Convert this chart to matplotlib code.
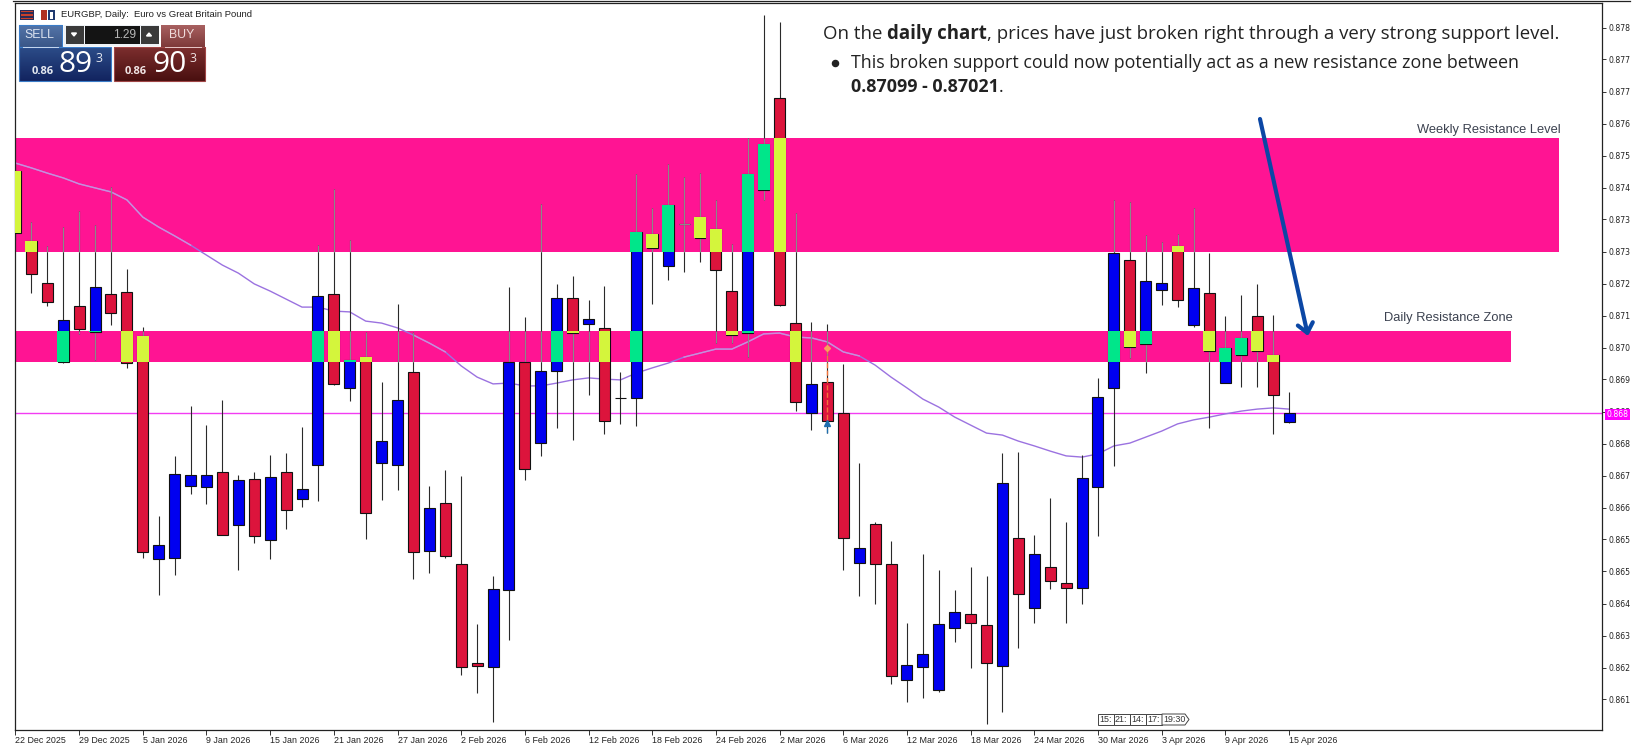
import numpy as np
import matplotlib
matplotlib.use('Agg')
import matplotlib.pyplot as plt
from matplotlib.patches import Rectangle, Polygon

# daily candles
opens = [.87498, .87323, .87218, .87020, .87161, .87096, .87191, .87196, .87086, .86529,
         .86531, .86711, .86708, .86746, .86614, .86729, .86576, .86746, .86678, .86763,
         .87191, .86956, .87034, .86768, .86763, .86996, .86549, .86667, .86515, .86269,
         .86259, .86451, .87021, .86818, .86999, .87181, .87116, .87105, .86932, .86932,
         .87341, .87260, .87365, .87382, .87353, .87199, .87092, .87451, .87681, .87117,
         .86894, .86970, .86892, .86519, .86617, .86515, .86226, .86258, .86201, .86357,
         .86391, .86363, .86261, .86581, .86405, .86507, .86467, .86456, .86709, .86956,
         .87276, .87066, .87201, .87311, .87113, .87194, .86969, .87038, .87135, .87038,
         .86870]
highs = [.87513, .87371, .87311, .87358, .87398, .87363, .87458, .87253, .87108, .86636,
         .86786, .86911, .86863, .86926, .86739, .86746, .86789, .86794, .86859, .87313,
         .87453, .87326, .87096, .86971, .87166, .87096, .86711, .86752, .86737, .86366,
         .86486, .87209, .87134, .87416, .87216, .87236, .87176, .87212, .86995, .87490,
         .87405, .87516, .87484, .87494, .87427, .87315, .87580, .87888, .87870, .87392,
         .87121, .87116, .87017, .86767, .86620, .86572, .86369, .86542, .86501, .86451,
         .86509, .86486, .86792, .86796, .86587, .86680, .86622, .86789, .86980, .87426,
         .87421, .87339, .87321, .87341, .87405, .87294, .87136, .87187, .87217, .87138,
         .86946]
lows = [.87326, .87193, .87161, .87018, .87091, .87026, .87113, .87006, .86531, .86439,
        .86489, .86691, .86666, .86588, .86501, .86569, .86529, .86603, .86658, .86673,
        .86963, .86924, .86578, .86676, .86701, .86479, .86494, .86531, .86238, .86193,
        .86121, .86326, .86726, .86786, .86856, .86826, .86938, .86842, .86866, .86860,
        .87166, .87227, .87247, .87271, .87069, .87067, .87034, .87426, .87160, .86899,
        .86852, .86844, .86501, .86436, .86417, .86216, .86171, .86181, .86196, .86320,
        .86257, .86116, .86146, .86307, .86367, .86454, .86367, .86415, .86586, .86761,
        .87032, .86994, .87163, .87159, .87109, .86857, .86967, .86959, .86959, .86842,
        .86867]
closes = [.87343, .87241, .87171, .87126, .87103, .87208, .87143, .87018, .86546, .86562,
          .86741, .86739, .86739, .86589, .86726, .86586, .86734, .86651, .86704, .87186,
          .86965, .87026, .86644, .86823, .86926, .86546, .86655, .86536, .86259, .86261,
          .86452, .87021, .86753, .86998, .87181, .87094, .87127, .86874, .86932, .87346,
          .87305, .87413, .87365, .87330, .87251, .87087, .87491, .87566, .87163, .86920,
          .86965, .86874, .86581, .86555, .86517, .86236, .86263, .86291, .86366, .86396,
          .86367, .86269, .86719, .86442, .86540, .86474, .86456, .86731, .86932, .87294,
          .87059, .87224, .87219, .87176, .87206, .87049, .87055, .87080, .87049, .86939,
          .86892]

# moving average line
ma_line = [.87518, .87506, .87493, .87481, .87466, .87456, .87446, .87426, .87383, .87358,
           .87336, .87313, .87288, .87263, .87243, .87216, .87198, .87178, .87158, .87158,
           .87148, .87146, .87123, .87118, .87106, .87088, .87068, .87046, .87011, .86983,
           .86966, .86968, .86961, .86961, .86968, .86976, .86981, .86978, .86976, .86993,
           .87006, .87018, .87033, .87043, .87053, .87053, .87071, .87091, .87093, .87083,
           .87081, .87071, .87046, .87036, .87013, .86983, .86956, .86928, .86908, .86883,
           .86863, .86843, .86838, .86823, .86811, .86798, .86786, .86783, .86791, .86811,
           .86818, .86833, .86848, .86866, .86876, .86883, .86891, .86898, .86903, .86906,
           .86903]

# zones: low, high, right end in bars
weekly_zone = [.87295, .87580, 96.97]
daily_zone = [.87021, .87099, 93.94]
current_price = .86893

# trade marks on the 4 Mar candle
trade_bar = 51
trade_entry = .87056
trade_exit = .86869

y_ticks = [.87857, .87777, .87697, .87617, .87537, .87457, .87377, .87297, .87217, .87137, .87057,
           .86977, .86897, .86817, .86737, .86657, .86577, .86497, .86417, .86337, .86257, .86177]
y_labels = ['0.878', '0.877', '0.877', '0.876', '0.875', '0.874', '0.873', '0.873', '0.872', '0.871', '0.870',
            '0.869', '0.868', '0.868', '0.867', '0.866', '0.865', '0.865', '0.864', '0.863', '0.862', '0.861']
x_ticks = [0, 4, 8, 12, 16, 20, 24, 28, 32, 36, 40, 44, 48, 52, 56, 60, 64, 68, 72, 76, 80]
x_labels = ['22 Dec 2025', '29 Dec 2025', '5 Jan 2026', '9 Jan 2026', '15 Jan 2026', '21 Jan 2026',
            '27 Jan 2026', '2 Feb 2026', '6 Feb 2026', '12 Feb 2026', '18 Feb 2026', '24 Feb 2026',
            '2 Mar 2026', '6 Mar 2026', '12 Mar 2026', '18 Mar 2026', '24 Mar 2026', '30 Mar 2026',
            '3 Apr 2026', '9 Apr 2026', '15 Apr 2026']

W, H = 1643, 746
PINK = '#FF1493'
UP = '#0000F0'
DOWN = '#DC143C'
UP_ZONE = '#00E68A'
DOWN_ZONE = '#D4F53C'

fig = plt.figure(figsize=(W / 100, H / 100), dpi=100, facecolor='white')
ax = fig.add_axes([15.3 / W, (H - 729.5) / H, (1602 - 15.3) / W, (729.5 - 2.7) / H])

x = np.arange(len(opens))
o = np.array(opens)
c = np.array(closes)
hi = np.array(highs)
lo = np.array(lows)
body_top = np.maximum(o, c)
body_bot = np.minimum(o, c)
bar_w = 0.69

zones = [weekly_zone, daily_zone]
for z in zones:
    ax.fill_between([-1, z[2]], z[0], z[1], color=PINK, lw=0, zorder=1)

ax.axhline(current_price, color='#F23CF2', lw=1, zorder=1.5)

ma = np.array(ma_line)
ax.plot(x, ma, color='#9B72E0', lw=1, zorder=1.6)
for z in zones:
    ax.plot(x, np.where((ma > z[0]) & (ma < z[1]), ma, np.nan), color='#D08CD8', lw=1, zorder=1.7)

ax.vlines(x, lo, hi, color='#2A2A2A', lw=0.8, zorder=2)
for z in zones:
    w_lo = np.maximum(lo, z[0])
    w_hi = np.minimum(hi, z[1])
    keep = (w_hi > w_lo) & (x < z[2])
    ax.vlines(x[keep], w_lo[keep], w_hi[keep], color='#8A8A8A', lw=0.8, zorder=2.1)

colors = [UP if c[i] >= o[i] else DOWN for i in x]
ax.bar(x, body_top - body_bot, bottom=body_bot, width=bar_w, color=colors,
       edgecolor='#111111', lw=0.8, zorder=3)

# bodies change colour where they sit on a zone
for z in zones:
    b_lo = np.maximum(body_bot, z[0])
    b_hi = np.minimum(body_top, z[1])
    for i in x:
        if b_hi[i] > b_lo[i]:
            col = UP_ZONE if c[i] >= o[i] else DOWN_ZONE
            ax.bar(i, b_hi[i] - b_lo[i], bottom=b_lo[i], width=bar_w + 0.06, color=col, lw=0, zorder=3.2)
        elif o[i] == c[i] and z[0] < o[i] < z[1]:
            ax.hlines(o[i], i - bar_w / 2, i + bar_w / 2, color='#8A8A8A', lw=0.8, zorder=3.2)

# trade marks
ax.plot([trade_bar, trade_bar], [trade_entry, trade_exit], color='#F4743B', lw=1, ls='--', zorder=3.4)
ax.plot([trade_bar, trade_bar], [lo[trade_bar], trade_exit], color='#1E6FB0', lw=1, ls='--', zorder=3.4)
ax.plot(trade_bar, trade_entry, marker='D', ms=3, color='#F9A05C', zorder=3.5)
ax.plot(trade_bar, trade_exit, marker='^', ms=5, color='#1E6FB0', zorder=3.5)

ax.set_xlim(-0.01, 99.66)
ax.set_ylim(.86102, .87919)
ax.yaxis.tick_right()
ax.set_yticks(y_ticks)
ax.set_yticklabels(y_labels, fontsize=5.6, family='DejaVu Sans', color='#222222')
ax.set_xticks(x_ticks)
ax.set_xticklabels(x_labels, fontsize=6.4, family='Liberation Sans', color='#222222', ha='left')
ax.tick_params(axis='y', length=3, width=0.7, pad=1.5, color='#333333')
ax.tick_params(axis='x', length=3.5, width=0.7, pad=1, color='#333333')
for s in ax.spines.values():
    s.set_linewidth(0.9)
    s.set_color('#222222')

# overlay in picture pixels for the text and the trade panel
ov = fig.add_axes([0, 0, 1, 1], zorder=10)
ov.patch.set_alpha(0)
ov.axis('off')


def grad(x0, y0, x1, y1, top, bottom):
    c0 = np.array(matplotlib.colors.to_rgb(top))
    c1 = np.array(matplotlib.colors.to_rgb(bottom))
    t = np.linspace(0, 1, 24)[:, None, None]
    img = c0[None, None, :] * (1 - t) + c1[None, None, :] * t
    ov.imshow(img, extent=[x0, x1, y1, y0], aspect='auto', zorder=2, interpolation='bilinear')


ov.plot([13, 1630], [0.8, 0.8], color='#222222', lw=0.9)

# icons and title
ov.add_patch(Rectangle((20, 9.5), 14, 10, color='#2B2B55', lw=0))
for yy in [10.5, 14, 17.5]:
    ov.add_patch(Rectangle((21, yy), 12, 1.6, color='#C8402A', lw=0))
ov.add_patch(Rectangle((41, 9.5), 6, 10, color='#B03020', lw=0))
ov.add_patch(Rectangle((48, 9.5), 7, 10, color='#1F3A70', lw=0))
ov.add_patch(Rectangle((50, 12), 2.5, 7, color='white', lw=0))
ov.text(61, 14.5, 'EURGBP, Daily:  Euro vs Great Britain Pound', fontsize=6.8, family='Liberation Sans',
        color='#222222', va='center')

# sell / buy panel
grad(19, 25, 62.3, 47, '#5474A8', '#3A5788')
grad(161, 25, 205, 47, '#A86060', '#7E3A3A')
grad(19, 47, 111, 81, '#2C4C88', '#122460')
grad(113.5, 47, 205, 81, '#7C2E2E', '#4A1010')
ov.add_patch(Rectangle((19, 47), 92, 34, fill=False, ec='#3A7CC8', lw=0.8, zorder=3))
ov.add_patch(Rectangle((19, 25), 43.3, 22, fill=False, ec='#3A7CC8', lw=0.8, zorder=3))
ov.add_patch(Rectangle((113.5, 47), 91.5, 34, fill=False, ec='#A04545', lw=0.8, zorder=3))
ov.add_patch(Rectangle((64, 25), 95, 21, fc='#EEF2F6', ec='none', zorder=2))
ov.add_patch(Rectangle((65.5, 26), 18, 18, fc='#3A3A3A', ec='none', zorder=3))
ov.add_patch(Rectangle((85, 26), 54.5, 18, fc='#141414', ec='none', zorder=3))
ov.add_patch(Rectangle((141, 26), 17.5, 18, fc='#3A3A3A', ec='none', zorder=3))
ov.add_patch(Polygon([[71.5, 33], [76.5, 33], [74, 36]], color='white', zorder=4))
ov.add_patch(Polygon([[146.5, 36], [151.5, 36], [149, 33]], color='white', zorder=4))
ov.plot([22.5, 58], [47, 47], color='#C8D8F0', lw=0.7, zorder=4)
ov.plot([165, 201], [47, 47], color='#E8C8C8', lw=0.7, zorder=4)
ov.text(136, 34.5, '1.29', fontsize=8.6, family='Liberation Sans', color='#B8B8B8', ha='right', va='center', zorder=5)
ov.text(39.5, 35.5, 'SELL', fontsize=8.8, family='Liberation Sans', color='#DDE4F0', ha='center', va='center', zorder=5)
ov.text(182, 35.5, 'BUY', fontsize=8.8, family='Liberation Sans', color='#F0DDDD', ha='center', va='center', zorder=5)
ov.text(32, 71, '0.86', fontsize=8, weight='bold', family='Open Sans', color='#E4E8F0', va='center', zorder=5)
ov.text(59, 64.5, '89', fontsize=21.5, family='Open Sans', color='white', va='center', zorder=5)
ov.text(96, 59, '3', fontsize=9, family='Open Sans', color='#E4E8F0', va='center', zorder=5)
ov.text(125, 71, '0.86', fontsize=8, weight='bold', family='Open Sans', color='#F0E4E4', va='center', zorder=5)
ov.text(153, 64.5, '90', fontsize=21.5, family='Open Sans', color='white', va='center', zorder=5)
ov.text(190, 59, '3', fontsize=9, family='Open Sans', color='#F0E4E4', va='center', zorder=5)

# zone labels
ov.text(1561, 130.5, 'Weekly Resistance Level', fontsize=9.3, family='Liberation Sans', color='#3C4250',
        ha='right', va='center')
ov.text(1513, 318.5, 'Daily Resistance Zone', fontsize=9.3, family='Liberation Sans', color='#3C4250',
        ha='right', va='center')

# arrow
ov.annotate('', xy=(1308, 336), xytext=(1260, 119),
            arrowprops=dict(arrowstyle='->,head_length=0.3,head_width=0.25', color='#0B47A5', lw=3,
                            shrinkA=0, shrinkB=0, mutation_scale=22))

# current price flag
ov.add_patch(Rectangle((1605, 409), 25, 11, color='#FF00FF', lw=0, zorder=6))
ov.text(1617.5, 414.6, '0.868', fontsize=5.6, family='DejaVu Sans', color='white', ha='center', va='center', zorder=7)

# session box above the date axis
box_edges = [1098, 1113.5, 1130, 1146, 1162]
box_text = ['15:', '21:', '14:', '17:']
for k in range(4):
    ov.add_patch(Rectangle((box_edges[k], 714), box_edges[k + 1] - box_edges[k], 11, fc='white', ec='#444444', lw=0.7))
    ov.text(box_edges[k] + 1.5, 719.5, box_text[k], fontsize=6.4, family='Liberation Sans', color='#333333', va='center')
ov.add_patch(Polygon([[1162, 714], [1185, 714], [1189, 719.5], [1185, 725], [1162, 725]], fc='white', ec='#444444', lw=0.7))
ov.text(1163.5, 719.5, '19:30', fontsize=6.4, family='Liberation Sans', color='#333333', va='center')


# commentary, bold runs placed one after the other
def runs(x0, y0, size, parts):
    r = fig.canvas.get_renderer()
    xx = x0
    for txt, w in parts:
        t = ov.text(xx, y0, txt, fontsize=size, family='Open Sans', weight=w, color='#222222', va='baseline')
        xx = t.get_window_extent(r).x1


ov.set_xlim(0, W)
ov.set_ylim(H, 0)
runs(823, 39, 13.4, [('On the ', 'normal'), ('daily chart', 'bold'),
                     (', prices have just broken right through a very strong support level.', 'normal')])
ov.plot([834.5], [62.5], marker='o', ms=4.4, color='#222222')
runs(851, 68.5, 12.9, [('This broken support could now potentially act as a new resistance zone between', 'normal')])
runs(851, 92, 12.9, [('0.87099 - 0.87021', 'bold'), ('.', 'normal')])

ov.set_xlim(0, W)
ov.set_ylim(H, 0)
fig.savefig('out.png', dpi=100)
